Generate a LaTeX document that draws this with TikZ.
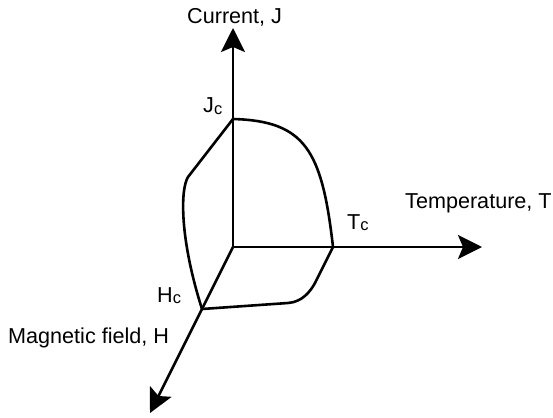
\documentclass[tikz,border=0pt]{standalone}
\usepackage{fontspec}
\setmainfont{Liberation Sans}
\usetikzlibrary{arrows.meta}

% small subscript letter for the critical values
\newcommand{\critsub}[1]{\raisebox{-1.5pt}{\fontsize{16.5}{18}\selectfont #1}}

\begin{document}
\begin{tikzpicture}[x=1pt, y=-1pt,
    axis/.style={-{Stealth[length=24pt, width=24pt, inset=5pt]}, line width=2.6pt},
    edge/.style={line width=2.6pt, line join=round, line cap=round},
    lbl/.style={font=\fontsize{21.6}{25}\selectfont, inner sep=0pt, anchor=base west}]
    \useasboundingbox (0,0) rectangle (553,417);

    % Axes: current up, temperature right, field towards the viewer
    \coordinate (O) at (233,247);
    \coordinate (Jend) at (233,28);
    \coordinate (Tend) at (482,247);
    \coordinate (Hend) at (150,413);
    \draw[axis] (O) -- (Jend);
    \draw[axis] (O) -- (Tend);
    \draw[axis] (O) -- (Hend);

    % Critical values on the axes
    \coordinate (Jc) at (233,119);
    \coordinate (Tc) at (333,247);
    \coordinate (Hc) at (202,309);

    % Critical surface edges
    \draw[edge] (Jc) .. controls (305,121) and (322,150) .. (Tc);
    \draw[edge] (Jc) -- (188,177) .. controls (180,190) and (180,240) .. (Hc);
    \draw[edge] (Hc) -- (288,303) .. controls (302,302) and (310,292) .. (315,283) -- (Tc);

    % Labels
    \node[lbl] (curlbl) at (187,24) {Current, J};
    \node[lbl] (templbl) at (405,208) {Temperature, T};
    \node[lbl] (maglbl) at (8,343) {Magnetic field, H};
    \node[lbl] (jclbl) at (203,113) {J\critsub{c}};
    \node[lbl] (tclbl) at (347,229) {T\critsub{c}};
    \node[lbl] (hclbl) at (157,302) {H\critsub{c}};
\end{tikzpicture}
\end{document}
